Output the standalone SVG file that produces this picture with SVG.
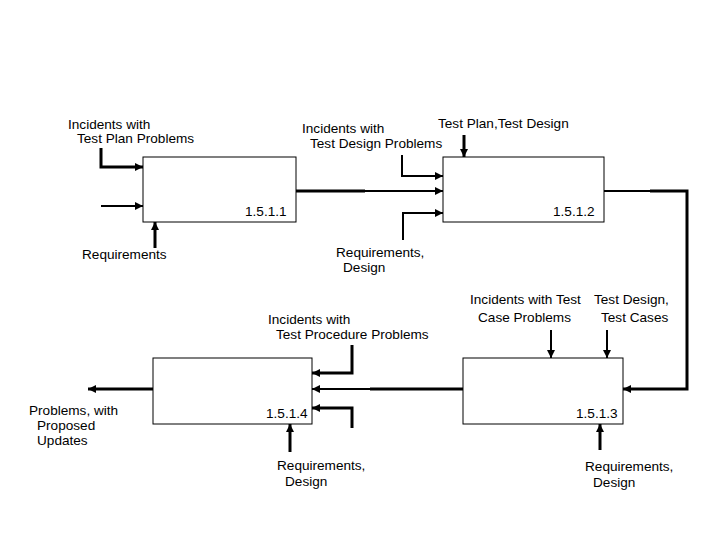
<svg xmlns="http://www.w3.org/2000/svg" width="720" height="540" viewBox="0 0 720 540">
<style>
text{font-family:"Liberation Sans",Arial,sans-serif;font-size:13.6px;fill:#000}
.b{fill:#fff;stroke:#000;stroke-width:1}
.k{fill:none;stroke:#000;stroke-width:3}
.t{fill:none;stroke:#000;stroke-width:2}
</style>
<defs>
<marker id="h" viewBox="0 0 10 10" refX="10" refY="5" markerWidth="8" markerHeight="8" orient="auto" markerUnits="userSpaceOnUse"><path d="M0,0 L10,5 L0,10 z"/></marker></defs>
<rect width="720" height="540" fill="#fff"/>
<g id="n1"><rect class="b" x="143" y="157" width="153" height="65"/><text x="245" y="216">1.5.1.1</text></g>
<g id="n2"><rect class="b" x="443" y="157" width="161" height="65"/><text x="553" y="216">1.5.1.2</text></g>
<g id="n3"><rect class="b" x="463" y="358" width="160" height="66"/><text x="576" y="418">1.5.1.3</text></g>
<g id="n4"><rect class="b" x="153" y="358" width="159" height="66"/><text x="266" y="418">1.5.1.4</text></g>
<g id="connectors">
<path class="k" d="M101,148 V167 H143" marker-end="url(#h)"/>
<path class="t" d="M101,206 H143" marker-end="url(#h)"/>
<path class="k" d="M155,248 V222" marker-end="url(#h)"/>
<path class="k" d="M296,191 H365"/>
<path class="t" d="M365,191 H443" marker-end="url(#h)"/>
<path class="t" d="M402,155 V176 H443" marker-end="url(#h)"/>
<path class="k" d="M464,135 V157" marker-end="url(#h)"/>
<path class="t" d="M403,240 V213 H443" marker-end="url(#h)"/>
<path class="t" d="M604,191 H650"/>
<path class="k" d="M650,191 H687 V389 H623" marker-end="url(#h)"/>
<path class="t" d="M551,330 V358" marker-end="url(#h)"/>
<path class="t" d="M607,330 V358" marker-end="url(#h)"/>
<path class="k" d="M600,450 V424" marker-end="url(#h)"/>
<path class="k" d="M463,389 H370"/>
<path class="t" d="M370,389 H312" marker-end="url(#h)"/>
<path class="k" d="M352,345 V373 H312" marker-end="url(#h)"/>
<path class="k" d="M352,428 V408 H312" marker-end="url(#h)"/>
<path class="k" d="M290,452 V424" marker-end="url(#h)"/>
<path class="k" d="M153,389 H88" marker-end="url(#h)"/>
</g>
<g id="labels">
<text x="68" y="129">Incidents with</text><text x="77" y="143">Test Plan Problems</text>
<text x="82" y="259">Requirements</text>
<text x="302" y="133">Incidents with</text><text x="310" y="148">Test Design Problems</text>
<text x="438" y="128">Test Plan,Test Design</text>
<text x="336" y="257">Requirements,</text><text x="343" y="272">Design</text>
<text x="470" y="304">Incidents with Test</text><text x="478" y="322">Case Problems</text>
<text x="594" y="304">Test Design,</text><text x="601" y="322">Test Cases</text>
<text x="268" y="324">Incidents with</text><text x="276" y="339">Test Procedure Problems</text>
<text x="29" y="415">Problems, with</text><text x="37" y="430">Proposed</text><text x="37" y="445">Updates</text>
<text x="277" y="470">Requirements,</text><text x="285" y="486">Design</text>
<text x="585" y="471">Requirements,</text><text x="593" y="487">Design</text>
</g>
</svg>
